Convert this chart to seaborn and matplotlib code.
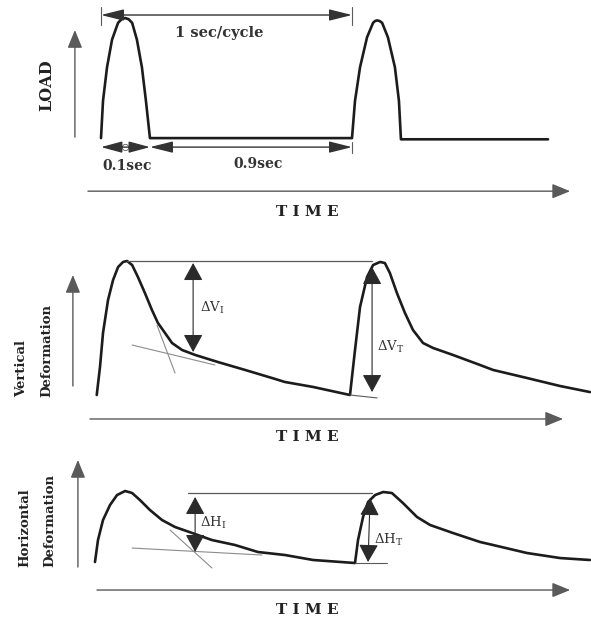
import matplotlib
matplotlib.use("Agg")
import matplotlib.pyplot as plt
import seaborn as sns
import pandas as pd

# ---------------- data (time in seconds, normalised response) ----------------
load_time = [0.0, 0.008, 0.024, 0.044, 0.068, 0.082, 0.096, 0.110, 0.124, 0.143, 0.163,
             0.179, 0.195, 1.0, 1.012, 1.032, 1.060, 1.084, 1.092, 1.100, 1.110, 1.120,
             1.143, 1.171, 1.187, 1.195, 1.781]
load_value = [0.0, 0.31, 0.59, 0.82, 0.96, 0.99, 1.0, 0.99, 0.96, 0.82, 0.59,
              0.31, 0.0, 0.0, 0.31, 0.59, 0.84, 0.96, 0.975, 0.98, 0.975, 0.96,
              0.84, 0.59, 0.31, -0.01, -0.01]

vert_time = [-0.017, -0.004, 0.008, 0.028, 0.048, 0.068, 0.088, 0.104, 0.124, 0.147,
             0.175, 0.203, 0.227, 0.255, 0.283, 0.323, 0.375, 0.466, 0.574, 0.681,
             0.733, 0.845, 0.992, 1.012, 1.032, 1.060, 1.084, 1.112, 1.131, 1.151,
             1.179, 1.211, 1.243, 1.283, 1.323, 1.402, 1.510, 1.562, 1.697, 1.829, 1.948]
vert_value = [0.0, 0.209, 0.463, 0.709, 0.858, 0.955, 0.993, 1.0, 0.970, 0.881,
              0.761, 0.634, 0.537, 0.463, 0.388, 0.336, 0.299, 0.246, 0.187, 0.127,
              0.097, 0.060, 0.0, 0.336, 0.657, 0.881, 0.970, 0.993, 0.985, 0.910,
              0.761, 0.612, 0.485, 0.388, 0.351, 0.299, 0.224, 0.187, 0.127, 0.067, 0.022]

horiz_time = [-0.024, -0.012, 0.008, 0.036, 0.064, 0.096, 0.124, 0.155, 0.195, 0.243,
              0.295, 0.363, 0.442, 0.534, 0.625, 0.733, 0.845, 1.012, 1.024, 1.044,
              1.064, 1.092, 1.124, 1.159, 1.203, 1.259, 1.311, 1.402, 1.510, 1.562,
              1.697, 1.829, 1.948]
horiz_value = [0.014, 0.319, 0.597, 0.806, 0.944, 1.0, 0.972, 0.875, 0.736, 0.597,
               0.5, 0.417, 0.319, 0.25, 0.153, 0.111, 0.042, 0.0, 0.319, 0.639,
               0.847, 0.944, 0.986, 0.972, 0.833, 0.639, 0.528, 0.417, 0.292, 0.25,
               0.139, 0.069, 0.042]

# construction / tangent lines (time, value pairs)
vert_tangent_flat = ([0.124, 0.454], [0.373, 0.224])
vert_tangent_steep = ([0.223, 0.295], [0.522, 0.164])
vert_base_tick = ([0.992, 1.100], [0.0, -0.022])
horiz_tangent_flat = ([0.124, 0.641], [0.208, 0.111])
horiz_tangent_steep = ([0.275, 0.442], [0.458, -0.069])
horiz_base_tick = ([1.012, 1.139], [0.0, 0.0])

cycle_label = "1 sec/cycle"
pulse_label = "0.1sec"
rest_label = "0.9sec"
x_label = "T I M E"

# ---------------- styling ----------------
sns.set_theme(style="white")
plt.rcParams["font.family"] = ["DejaVu Serif"]
plt.rcParams["mathtext.fontset"] = "dejavuserif"

INK = "#1c1c1c"
GREY = "#5a5a5a"
LIGHT = "#8c8c8c"
XLIM = (-0.4024, 1.9522)

fig = plt.figure(figsize=(5.91, 6.22), dpi=100)
ax1 = fig.add_axes([0, 0.638, 1, 0.362])
ax2 = fig.add_axes([0, 0.2846, 1, 0.3537])
ax3 = fig.add_axes([0, 0.0, 1, 0.2846])
ax1.set_ylim(-0.725, 1.15)
ax2.set_ylim(-0.373, 1.269)
ax3.set_ylim(-0.819, 1.639)
for ax in (ax1, ax2, ax3):
    ax.set_xlim(*XLIM)
    ax.axis("off")


def arrow(ax, tail, tip, style="-|>", hl=1.1, hw=0.45, color=GREY, lw=1.0, ms=10):
    ax.annotate("", xy=tip, xytext=tail,
                arrowprops=dict(arrowstyle=f"{style},head_length={hl},head_width={hw}",
                                color=color, lw=lw, shrinkA=0, shrinkB=0,
                                mutation_scale=ms))


def line(ax, pair, color=LIGHT, lw=0.8):
    sns.lineplot(x=pair[0], y=pair[1], sort=False, estimator=None, color=color,
                 lw=lw, ax=ax)


# ---------------- panel 1: load ----------------
sns.lineplot(data=pd.DataFrame({"t": load_time, "v": load_value}), x="t", y="v",
             sort=False, estimator=None, color=INK, lw=1.9, ax=ax1)
ax1.set_xlim(*XLIM)
# 1 sec/cycle dimension
arrow(ax1, (0.0, 1.025), (1.0, 1.025), style="<|-|>", hl=1.4, hw=0.35, color="#333333")
line(ax1, ([0.0, 0.0], [0.94, 1.09]), color=GREY, lw=0.8)
line(ax1, ([1.0, 1.0], [0.94, 1.09]), color=GREY, lw=0.8)
ax1.text(0.47, 0.875, cycle_label, ha="center", va="center", fontsize=10.5,
         fontweight="bold", color="#333333")
# 0.1 / 0.9 sec dimensions
arrow(ax1, (0.0, -0.075), (0.195, -0.075), style="<|-|>", hl=1.3, hw=0.35, color="#333333")
ax1.plot([0.0975], [-0.075], marker="o", ms=4.5, mfc="white", mec="#555555", mew=0.6)
arrow(ax1, (0.195, -0.075), (1.0, -0.075), style="<|-|>", hl=1.4, hw=0.35, color="#333333")
line(ax1, ([1.0, 1.0], [-0.03, -0.12]), color=GREY, lw=0.8)
ax1.text(0.104, -0.233, pulse_label, ha="center", va="center", fontsize=10,
         fontweight="bold", color="#333333")
ax1.text(0.625, -0.217, rest_label, ha="center", va="center", fontsize=10,
         fontweight="bold", color="#333333")
# axes arrows
arrow(ax1, (-0.104, 0.008), (-0.104, 0.90))
ax1.text(-0.215, 0.44, "LOAD", rotation=90, ha="center", va="center", fontsize=11.5,
         fontweight="bold", color="#222222")
arrow(ax1, (-0.052, -0.442), (1.869, -0.442))
ax1.text(0.82, -0.617, x_label, ha="center", va="center", fontsize=11,
         fontweight="bold", color="#222222")

# ---------------- panel 2: vertical deformation ----------------
sns.lineplot(data=pd.DataFrame({"t": vert_time, "v": vert_value}), x="t", y="v",
             sort=False, estimator=None, color=INK, lw=1.9, ax=ax2)
ax2.set_xlim(*XLIM)
line(ax2, ([0.104, 1.080], [1.0, 1.0]), color=GREY, lw=0.9)
line(ax2, vert_tangent_flat)
line(ax2, vert_tangent_steep)
line(ax2, vert_base_tick, color=GREY, lw=0.8)
arrow(ax2, (0.367, 0.985), (0.367, 0.321), style="<|-|>", hl=1.1, hw=0.6, color="#2a2a2a", lw=0.8)
ax2.text(0.394, 0.649, r"ΔV$_\mathregular{I}$", ha="left", va="center", fontsize=9.5,
         color="#333333")
arrow(ax2, (1.080, 0.955), (1.080, 0.022), style="<|-|>", hl=1.1, hw=0.6, color="#2a2a2a", lw=0.8)
ax2.text(1.100, 0.358, r"ΔV$_\mathregular{T}$", ha="left", va="center", fontsize=9.5,
         color="#333333")
arrow(ax2, (-0.112, 0.067), (-0.112, 0.896))
ax2.text(-0.315, -0.015, "Vertical", rotation=90, ha="center", va="bottom", fontsize=9.5,
         fontweight="bold", color="#222222")
ax2.text(-0.215, -0.015, "Deformation", rotation=90, ha="center", va="bottom", fontsize=9.5,
         fontweight="bold", color="#222222")
arrow(ax2, (-0.044, -0.179), (1.841, -0.179))
ax2.text(0.82, -0.313, x_label, ha="center", va="center", fontsize=11,
         fontweight="bold", color="#222222")

# ---------------- panel 3: horizontal deformation ----------------
sns.lineplot(data=pd.DataFrame({"t": horiz_time, "v": horiz_value}), x="t", y="v",
             sort=False, estimator=None, color=INK, lw=1.9, ax=ax3)
ax3.set_xlim(*XLIM)
line(ax3, ([0.347, 1.080], [0.972, 0.972]), color=GREY, lw=0.9)
line(ax3, horiz_tangent_flat)
line(ax3, horiz_tangent_steep)
line(ax3, horiz_base_tick, color=GREY, lw=0.8)
arrow(ax3, (0.375, 0.917), (0.375, 0.153), style="<|-|>", hl=1.1, hw=0.6, color="#2a2a2a", lw=0.8)
ax3.text(0.394, 0.556, r"ΔH$_\mathregular{I}$", ha="left", va="center", fontsize=9.5,
         color="#333333")
arrow(ax3, (1.064, 0.014), (1.072, 0.903), style="<|-|>", hl=1.1, hw=0.6, color="#2a2a2a", lw=0.8)
ax3.text(1.088, 0.319, r"ΔH$_\mathregular{T}$", ha="left", va="center", fontsize=9.5,
         color="#333333")
arrow(ax3, (-0.092, -0.056), (-0.092, 1.431))
ax3.text(-0.303, -0.056, "Horizontal", rotation=90, ha="center", va="bottom", fontsize=9.5,
         fontweight="bold", color="#222222")
ax3.text(-0.203, -0.056, "Deformation", rotation=90, ha="center", va="bottom", fontsize=9.5,
         fontweight="bold", color="#222222")
arrow(ax3, (-0.016, -0.375), (1.869, -0.375))
ax3.text(0.82, -0.653, x_label, ha="center", va="center", fontsize=11,
         fontweight="bold", color="#222222")

for ax in (ax1, ax2, ax3):
    ax.set_xlabel("")
    ax.set_ylabel("")

fig.savefig("out.png", dpi=100)
